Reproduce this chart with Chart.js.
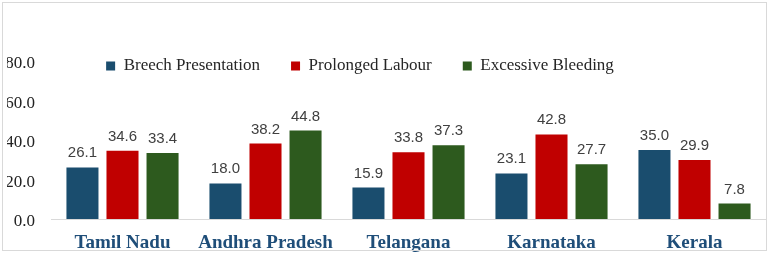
<!DOCTYPE html>
<html>
<head>
<meta charset="utf-8">
<script src="https://cdn.jsdelivr.net/npm/chart.js@4.4.1/dist/chart.umd.min.js"></script>
<style>
  html, body { margin: 0; padding: 0; background: #fff; }
  #wrap { position: relative; width: 770px; height: 254px; }
  #frame { position: absolute; left: 2px; top: 2px; width: 763px; height: 247px; border: 1px solid #d9d9d9; pointer-events: none; }
</style>
</head>
<body>
<div id="wrap">
  <canvas id="chart" width="770" height="254"></canvas>
  <div id="frame"></div>
</div>
<script>
const states = ['Tamil Nadu', 'Andhra Pradesh', 'Telangana', 'Karnataka', 'Kerala'];
const breech = [26.1, 18.0, 15.9, 23.1, 35.0];
const prolonged = [34.6, 38.2, 33.8, 42.8, 29.9];
const bleeding = [33.4, 44.8, 37.3, 27.7, 7.8];
const yTicks = [0, 20, 40, 60, 80];

// value labels over each bar
const barLabels = {
  id: 'barLabels',
  afterDatasetsDraw(chart) {
    const ctx = chart.ctx;
    ctx.save();
    ctx.font = '15px "Liberation Sans", Arial, sans-serif';
    ctx.fillStyle = '#404040';
    ctx.textAlign = 'center';
    ctx.textBaseline = 'alphabetic';
    chart.data.datasets.forEach((ds, i) => {
      chart.getDatasetMeta(i).data.forEach((bar, j) => {
        ctx.fillText(ds.data[j].toFixed(1), bar.x, bar.y - 10);
      });
    });
    ctx.restore();
  }
};

// legend sits inside the plot as one row, a bit left of centre
const moveLegend = {
  id: 'moveLegend',
  beforeLayout(chart) {
    if (chart.legend) chart.legend.isHorizontal = () => true;
  },
  afterLayout(chart) {
    const lg = chart.legend;
    const ca = chart.chartArea;
    const half = (ca.right - ca.left) / 2;
    lg.left = 360 - half;
    lg.right = 360 + half;
    lg.top = 66 - 8.5 - 31;
  }
};

new Chart(document.getElementById('chart'), {
  type: 'bar',
  data: {
    labels: states,
    datasets: [
      { label: 'Breech Presentation', data: breech, backgroundColor: '#1A4D6E', borderWidth: 0 },
      { label: 'Prolonged Labour', data: prolonged, backgroundColor: '#C00000', borderWidth: 0 },
      { label: 'Excessive Bleeding', data: bleeding, backgroundColor: '#2D5A1E', borderWidth: 0 }
    ]
  },
  options: {
    responsive: false,
    devicePixelRatio: 1,
    animation: false,
    layout: { padding: { left: 7, right: 4, top: 61, bottom: 2 } },
    datasets: { bar: { barPercentage: 0.8, categoryPercentage: 0.84 } },
    plugins: {
      legend: {
        position: 'chartArea',
        align: 'center',
        labels: {
          boxWidth: 9,
          boxHeight: 9,
          padding: 31,
          color: '#262626',
          font: { family: '"Liberation Serif", "Times New Roman", serif', size: 17 }
        }
      },
      tooltip: { enabled: false }
    },
    scales: {
      x: {
        grid: { display: false, drawTicks: false },
        border: { display: true, color: '#d9d9d9', width: 1 },
        ticks: {
          padding: 13,
          color: '#1F4E79',
          font: { family: '"Liberation Serif", "Times New Roman", serif', size: 19, weight: 'bold' }
        },
        afterFit(scale) { scale.height = 33; }
      },
      y: {
        min: 0,
        max: 80,
        grid: { display: false, drawTicks: false },
        border: { display: false },
        afterBuildTicks(scale) { scale.ticks = yTicks.map(v => ({ value: v })); },
        ticks: {
          padding: 16,
          labelOffset: 3,
          color: '#222',
          font: { family: '"Liberation Serif", "Times New Roman", serif', size: 17 },
          callback: v => v.toFixed(1)
        },
        afterFit(scale) { scale.width = 44; }
      }
    }
  },
  plugins: [barLabels, moveLegend]
});
</script>
</body>
</html>
